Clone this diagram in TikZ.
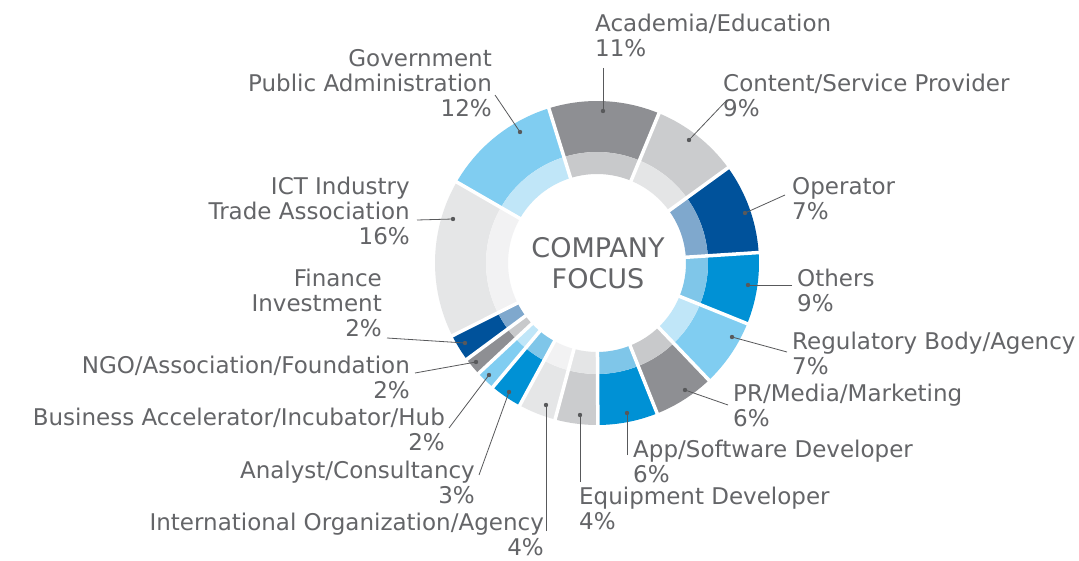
\documentclass[tikz,border=0pt]{standalone}
\usepackage{fontspec}
\setmainfont{DejaVu Sans}
\usepackage{tikz}
\usetikzlibrary{positioning, calc}
\definecolor{skyout}{RGB}{128, 205, 241}
\definecolor{skyin}{RGB}{192, 230, 248}
\definecolor{slateout}{RGB}{142, 143, 147}
\definecolor{slatein}{RGB}{200, 201, 203}
\definecolor{silverout}{RGB}{203, 204, 206}
\definecolor{silverin}{RGB}{228, 229, 230}
\definecolor{navyout}{RGB}{0, 82, 155}
\definecolor{navyin}{RGB}{127, 168, 205}
\definecolor{cyanout}{RGB}{0, 145, 213}
\definecolor{cyanin}{RGB}{127, 198, 233}
\definecolor{mistout}{RGB}{229, 230, 231}
\definecolor{mistin}{RGB}{242, 242, 243}
\definecolor{labelgray}{RGB}{100, 101, 104}
\definecolor{leadgray}{RGB}{88, 89, 91}

\begin{document}
\begin{tikzpicture}[x=1pt, y=1pt,
  lblL/.style={anchor=north west, align=left, inner sep=0pt, text=labelgray, font=\fontsize{23}{25}\selectfont},
  lblR/.style={anchor=north east, align=right, inner sep=0pt, text=labelgray, font=\fontsize{23}{25}\selectfont},
  leader/.style={draw=leadgray, line width=0.8pt},
  pin/.style={fill=leadgray}]
  \useasboundingbox (0,0) rectangle (1079,560);
  \fill[white] (0,0) rectangle (1079,560);

  % Ring segments
  \begin{scope}[shift={(597,297)}]
    \foreach \a/\b/\co/\ci in {150/107.3/skyout/skyin, 107.3/67.5/slateout/slatein,
      67.5/36/silverout/silverin, 36/3.7/navyout/navyin, 3.7/-22/cyanout/cyanin,
      -22/-46.3/skyout/skyin, -46.3/-68.2/slateout/slatein, -68.2/-89.7/cyanout/cyanin,
      -89.7/-105/silverout/silverin, -105/-118.5/mistout/mistin, -118.5/-130/cyanout/cyanin,
      -130/-137/skyout/skyin, -137/-143.5/slateout/slatein, -143.5/-153.3/navyout/navyin,
      -153.3/-210/mistout/mistin}{
      \fill[\co] (\a:162) arc[start angle=\a, end angle=\b, radius=162] -- (\b:111)
        arc[start angle=\b, end angle=\a, radius=111] -- cycle;
      \fill[\ci] (\a:111) arc[start angle=\a, end angle=\b, radius=111] -- (\b:89)
        arc[start angle=\b, end angle=\a, radius=89] -- cycle;
    }
    % White gaps
    \foreach \a in {150, 107.3, 67.5, 36, 3.7, -22, -46.3, -68.2, -89.7, -105, -118.5, -130, -137, -143.5, -153.3}
      \draw[white, line width=3.5pt] (\a:85) -- (\a:166);
  \end{scope}

  % Centre title
  \node[font=\fontsize{27}{31}\selectfont, text=labelgray, align=center] (focus) at (598,297) {COMPANY\\FOCUS};

  % Labels on the right
  \node[lblL] (aca) at (595,546) {Academia/Education\\11\%};
  \node[lblL] (con) at (723,486) {Content/Service Provider\\9\%};
  \node[lblL] (ope) at (792,383) {Operator\\7\%};
  \node[lblL] (oth) at (797,291) {Others\\9\%};
  \node[lblL] (reg) at (792,228) {Regulatory Body/Agency\\7\%};
  \node[lblL] (prm) at (733,176) {PR/Media/Marketing\\6\%};
  \node[lblL] (app) at (633,120) {App/Software Developer\\6\%};
  \node[lblL] (equ) at (579,73) {Equipment Developer\\4\%};

  % Labels on the left
  \node[lblR] (gov) at (492,511) {Government\\Public Administration\\12\%};
  \node[lblR] (ict) at (410,383) {ICT Industry\\Trade Association\\16\%};
  \node[lblR] (fin) at (382,291) {Finance\\Investment\\2\%};
  \node[lblR] (ngo) at (410,204) {NGO/Association/Foundation\\2\%};
  \node[lblR] (bus) at (445,152) {Business Accelerator/Incubator/Hub\\2\%};
  \node[lblR] (ana) at (475,99) {Analyst/Consultancy\\3\%};
  \node[lblR] (int) at (544,47) {International Organization/Agency\\4\%};

  % Leader lines with end dots
  \foreach \n/\sx/\sy/\dx/\dy in {aca/603/492/603/449, con/727/460/689/420, ope/785/365/745/347,
    oth/792/275/748/275, reg/787/208/732/223, prm/728/155/685/170, app/627/105/627/147,
    equ/580/78/580/145, int/546/29/546/155, ana/479/85/509/168, bus/449/132/489/185,
    ngo/415/187/476/198, fin/387/222/465/217, ict/417/340/453/341, gov/495/465/520/428}{
    \coordinate (\n-a) at (\sx,\sy);
    \coordinate (\n-b) at (\dx,\dy);
    \draw[leader] (\n-a) -- (\n-b);
    \fill[pin] (\n-b) circle[radius=2.2];
  }
\end{tikzpicture}
\end{document}
